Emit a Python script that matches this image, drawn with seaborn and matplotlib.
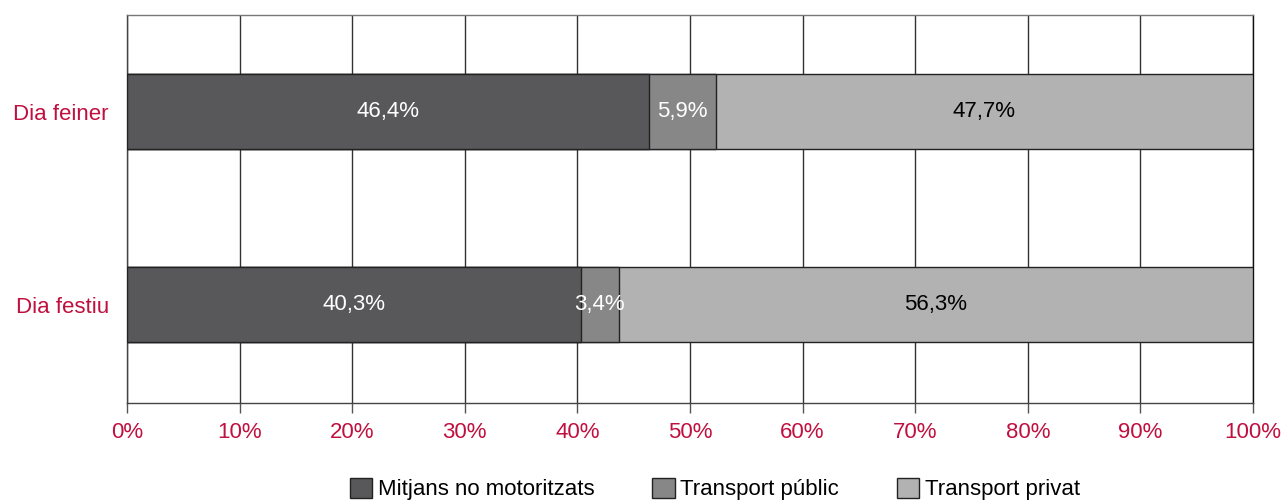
import matplotlib
matplotlib.use("Agg")
import matplotlib.pyplot as plt
import seaborn as sns
import pandas as pd
import numpy as np
from matplotlib.patches import Patch
from matplotlib.ticker import FuncFormatter

categories = ["Dia feiner", "Dia festiu"]
series_names = ["Mitjans no motoritzats", "Transport públic", "Transport privat"]
no_motor = [46.4, 40.3]
public = [5.9, 3.4]
private = [47.7, 56.3]
colors = ["#58585a", "#878787", "#b2b2b2"]
label_colors = ["white", "white", "black"]
tick_color = "#c0103f"

sns.set_theme(style="white")
plt.rcParams['font.family'] = ['Liberation Sans', 'DejaVu Sans']
FS = 16

fig = plt.figure(figsize=(12.87, 5.01), dpi=100)
ax = fig.add_axes([127/1287, 1-403/501, (1253-127)/1287, (403-15)/501])

vals = [no_motor, public, private]
cum = np.cumsum(np.array(vals), axis=0)
# draw from total down to the first segment
for i in range(2, -1, -1):
    df = pd.DataFrame({"cat": categories, "v": cum[i]})
    sns.barplot(data=df, x="v", y="cat", orient="h", color=colors[i],
                saturation=1, width=0.39, edgecolor="#222222", linewidth=1,
                ax=ax, zorder=3)

for i in range(3):
    for j, c in enumerate(categories):
        start = cum[i][j] - vals[i][j]
        ax.text(start + vals[i][j] / 2, j, f"{vals[i][j]:.1f}%".replace(".", ","),
                ha="center", va="center", color=label_colors[i], fontsize=FS, zorder=5)

ax.set_xlim(0, 100)
ax.set_ylim(1.51, -0.5)
ax.set_xticks(np.arange(0, 101, 10))
ax.xaxis.set_major_formatter(FuncFormatter(lambda v, p: f"{int(v)}%"))
ax.grid(axis="x", color="#333333", linewidth=1, zorder=0)
ax.set_axisbelow(True)
ax.set_xlabel("")
ax.set_ylabel("")
ax.tick_params(axis="x", colors="#555555", labelcolor=tick_color, labelsize=FS,
               direction="out", length=7, width=1, bottom=True, pad=7)
ax.tick_params(axis="y", labelcolor=tick_color, labelsize=FS, length=0, pad=13)
for s in ["top", "bottom", "left", "right"]:
    ax.spines[s].set_visible(True)
    ax.spines[s].set_linewidth(1)
ax.spines["top"].set_color("#777777")
ax.spines["bottom"].set_color("#444444")
ax.spines["left"].set_color("#444444")
ax.spines["right"].set_color("#111111")

handles = [Patch(facecolor=colors[i], edgecolor="#222222", linewidth=1, label=series_names[i]) for i in range(3)]
leg = fig.legend(handles=handles, loc="center", bbox_to_anchor=(715/1287, 1-489/501), ncol=3,
                 frameon=False, fontsize=FS, handlelength=1.0, handleheight=1.0,
                 handletextpad=0.25, columnspacing=2.6, borderaxespad=0, borderpad=0)
for t in leg.get_texts():
    t.set_color("black")

fig.savefig("out.png", dpi=100)
